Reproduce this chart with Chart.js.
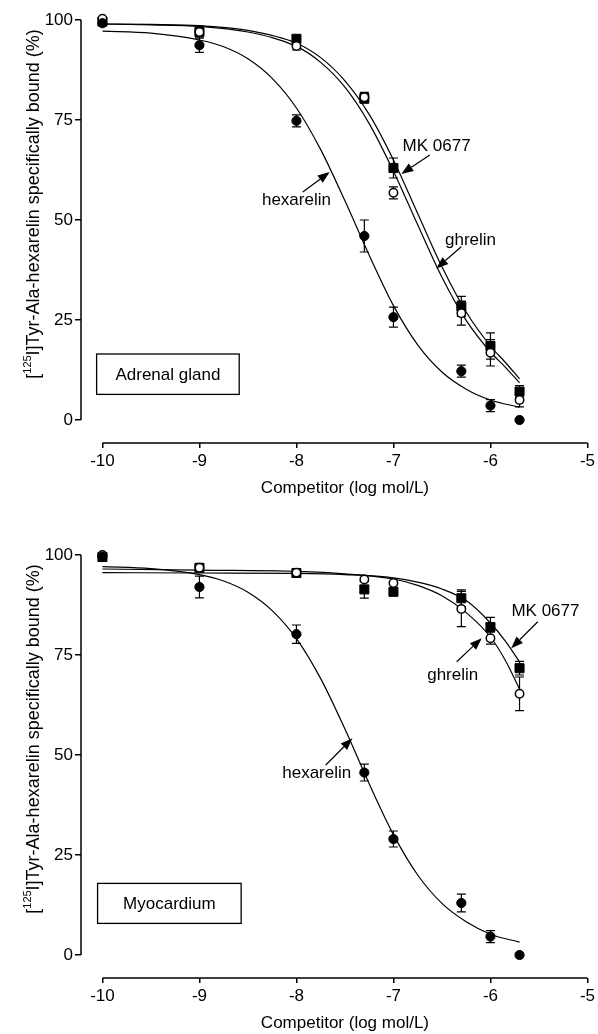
<!DOCTYPE html>
<html>
<head>
<meta charset="utf-8">
<script src="https://cdn.jsdelivr.net/npm/chart.js@4.4.1/dist/chart.umd.min.js"></script>
<style>
html,body{margin:0;padding:0;background:#fff;width:598px;height:1034px;overflow:hidden;position:relative}
canvas{position:absolute;left:0}
</style>
</head>
<body>
<canvas id="c1" width="598" height="499" style="top:0px"></canvas>
<canvas id="c2" width="598" height="499" style="top:535px"></canvas>
<script>
// ---------- data ----------
const logConc = [-10, -9, -8, -7.3, -7, -6.3, -6, -5.7];
const xTicks = [-10, -9, -8, -7, -6, -5];
const yTicks = [0, 25, 50, 75, 100];
const xTitle = 'Competitor (log mol/L)';
const yTitleParts = ['[', '125', 'I]Tyr-Ala-hexarelin specifically bound (%)'];

// Adrenal gland
const adrenalHexarelin    = [99.2, 93.7, 74.8, 46.0, 25.7, 12.2, 3.6, 0];
const adrenalHexarelinSem = [0, 1.8, 1.5, 4.0, 2.5, 1.5, 1.5, 0];
const adrenalGhrelin      = [100.3, 97.0, 93.5, 80.7, 56.8, 26.7, 16.8, 5.0];
const adrenalGhrelinSem   = [0, 1.5, 1.0, 1.2, 1.5, 3.0, 3.3, 1.7];
const adrenalMK0677       = [99.6, 97.0, 95.3, 80.4, 63.0, 28.4, 18.5, 7.1];
const adrenalMK0677Sem    = [0, 0, 0.8, 1.2, 2.5, 2.5, 3.3, 1.5];

// Myocardium
const myoHexarelin    = [99.6, 92.0, 80.2, 45.6, 29.0, 13.0, 4.6, 0];
const myoHexarelinSem = [0, 2.7, 2.3, 2.1, 2.0, 2.2, 1.5, 0];
const myoGhrelin      = [100.0, 96.8, 95.6, 93.9, 93.0, 86.5, 79.2, 65.3];
const myoGhrelinSem   = [0, 0, 0, 0.5, 0, 4.4, 1.5, 4.2];
const myoMK0677       = [99.5, 96.8, 95.5, 91.4, 90.8, 89.2, 82.0, 71.7];
const myoMK0677Sem    = [0, 0.5, 0, 2.2, 0, 2.1, 2.4, 1.7];

// fitted curves
const fitLogHex = [-10, -9.5, -9, -8.75, -8.5, -8.25, -8, -7.75, -7.5, -7.25, -7, -6.75, -6.5, -6.25, -6, -5.7];
const adrenalFitHexarelin = [97.2, 96.7, 95.0, 93.3, 90.3, 85.4, 78.0, 67.6, 54.8, 41.2, 28.6, 18.8, 12.0, 7.7, 5.0, 3.2];
const myoFitHexarelin     = [97.1, 96.6, 95.1, 93.5, 90.7, 86.1, 79.1, 69.1, 56.5, 42.8, 30.1, 20.0, 12.9, 8.3, 5.2, 3.2];
const fitLogTop = [-10, -9.5, -9, -8.5, -8, -7.75, -7.5, -7.25, -7, -6.75, -6.5, -6.25, -6, -5.85, -5.7];
const adrenalFitGhrelin = [99.0, 98.8, 98.4, 97.0, 93.4, 89.4, 83.2, 74.1, 62.2, 48.8, 35.7, 24.9, 17.0, 13.3, 9.3];
const adrenalFitMK0677  = [99.0, 98.9, 98.6, 97.4, 94.2, 90.6, 84.8, 76.4, 65.0, 51.6, 38.3, 27.0, 18.5, 14.5, 10.3];
const fitLogFlat = [-10, -9, -8, -7.5, -7, -6.75, -6.5, -6.25, -6, -5.85, -5.7];
const myoFitGhrelin = [96.5, 96.2, 95.9, 95.3, 94.0, 92.4, 89.8, 85.6, 79.5, 73.8, 66.5];
const myoFitMK0677  = [95.6, 95.5, 95.4, 95.1, 94.3, 93.2, 91.5, 88.6, 83.0, 78.6, 73.3];

// ---------- rendering ----------
const FONT = '"Liberation Sans", Arial, Helvetica, sans-serif';
const pts = (xs, ys) => xs.map((x, i) => ({x: x, y: ys[i]}));

const panels = [
  {
    id: 'c1', label: 'Adrenal gland',
    hex: adrenalHexarelin, hexSem: adrenalHexarelinSem,
    ghr: adrenalGhrelin, ghrSem: adrenalGhrelinSem,
    mk: adrenalMK0677, mkSem: adrenalMK0677Sem,
    fits: [[fitLogHex, adrenalFitHexarelin], [fitLogTop, adrenalFitGhrelin], [fitLogTop, adrenalFitMK0677]],
    notes: {
      texts: [['hexarelin', -8.0, 55], ['MK 0677', -6.555, 68.3], ['ghrelin', -6.205, 45]],
      arrows: [[-7.935, 57, -7.657, 62], [-6.625, 66.25, -6.919, 61.5], [-6.301, 43.3, -6.558, 37.9]],
      box: [-10.06, 16.5, -8.59, 6.4]
    }
  },
  {
    id: 'c2', label: 'Myocardium',
    hex: myoHexarelin, hexSem: myoHexarelinSem,
    ghr: myoGhrelin, ghrSem: myoGhrelinSem,
    mk: myoMK0677, mkSem: myoMK0677Sem,
    fits: [[fitLogHex, myoFitHexarelin], [fitLogFlat, myoFitGhrelin], [fitLogFlat, myoFitMK0677]],
    notes: {
      texts: [['hexarelin', -7.791, 45.5], ['ghrelin', -6.389, 70], ['MK 0677', -5.433, 85.8]],
      arrows: [[-7.698, 47.5, -7.423, 54.2], [-6.348, 73.3, -6.09, 79.2], [-5.512, 83.3, -5.786, 76.7]],
      box: [-10.05, 17.9, -8.57, 7.9]
    }
  }
];

function makeDecor(p) {
  return {
    id: 'decor',
    beforeDatasetsDraw(chart) {
      const {ctx, scales: {x, y}} = chart;
      ctx.save();
      ctx.strokeStyle = '#000';
      ctx.lineWidth = 1.2;
      [[p.mk, p.mkSem], [p.ghr, p.ghrSem], [p.hex, p.hexSem]].forEach(([vals, sem]) => {
        vals.forEach((v, i) => {
          const e = sem[i];
          if (!e) return;
          const px = x.getPixelForValue(logConc[i]);
          const yt = y.getPixelForValue(v + e), yb = y.getPixelForValue(v - e);
          ctx.beginPath();
          ctx.moveTo(px, yt); ctx.lineTo(px, yb);
          ctx.moveTo(px - 4.5, yt); ctx.lineTo(px + 4.5, yt);
          ctx.moveTo(px - 4.5, yb); ctx.lineTo(px + 4.5, yb);
          ctx.stroke();
        });
      });
      ctx.restore();
    },
    afterDraw(chart) {
      const {ctx, chartArea, scales: {x, y}} = chart;
      ctx.save();
      ctx.strokeStyle = '#000';
      ctx.fillStyle = '#000';
      // axis lines
      ctx.lineWidth = 1.5;
      ctx.beginPath();
      ctx.moveTo(chartArea.left, y.getPixelForValue(yTicks[0]));
      ctx.lineTo(chartArea.left, y.getPixelForValue(yTicks[yTicks.length - 1]));
      ctx.moveTo(x.getPixelForValue(xTicks[0]), chartArea.bottom);
      ctx.lineTo(x.getPixelForValue(xTicks[xTicks.length - 1]), chartArea.bottom);
      ctx.stroke();
      // x title
      ctx.font = '17px ' + FONT;
      ctx.textAlign = 'center';
      ctx.textBaseline = 'middle';
      const xMid = (x.getPixelForValue(xTicks[0]) + x.getPixelForValue(xTicks[xTicks.length - 1])) / 2;
      ctx.fillText(xTitle, xMid, chartArea.bottom + 45);
      // y title (rotated, with superscript)
      ctx.save();
      ctx.translate(chartArea.left - 42, y.getPixelForValue(54));
      ctx.rotate(-Math.PI / 2);
      ctx.textAlign = 'left';
      ctx.textBaseline = 'alphabetic';
      const fBig = '18px ' + FONT, fSmall = '11px ' + FONT;
      const segs = [[yTitleParts[0], fBig, 0], [yTitleParts[1], fSmall, -8], [yTitleParts[2], fBig, 0]];
      let total = 0;
      segs.forEach(s => { ctx.font = s[1]; s.push(ctx.measureText(s[0]).width); total += s[3]; });
      let cx = -total / 2;
      segs.forEach(s => { ctx.font = s[1]; ctx.fillText(s[0], cx, s[2]); cx += s[3]; });
      ctx.restore();
      // annotation labels
      ctx.font = '17px ' + FONT;
      ctx.textAlign = 'center';
      ctx.textBaseline = 'middle';
      p.notes.texts.forEach(t => ctx.fillText(t[0], x.getPixelForValue(t[1]), y.getPixelForValue(t[2])));
      // arrows
      ctx.lineWidth = 1.2;
      p.notes.arrows.forEach(a => {
        const x0 = x.getPixelForValue(a[0]), y0 = y.getPixelForValue(a[1]);
        const x1 = x.getPixelForValue(a[2]), y1 = y.getPixelForValue(a[3]);
        const ang = Math.atan2(y1 - y0, x1 - x0);
        const hl = 12, hw = 4.5;
        const bx = x1 - hl * Math.cos(ang), by = y1 - hl * Math.sin(ang);
        ctx.beginPath(); ctx.moveTo(x0, y0); ctx.lineTo(bx, by); ctx.stroke();
        ctx.beginPath();
        ctx.moveTo(x1, y1);
        ctx.lineTo(bx + hw * Math.sin(ang), by - hw * Math.cos(ang));
        ctx.lineTo(bx - hw * Math.sin(ang), by + hw * Math.cos(ang));
        ctx.closePath(); ctx.fill();
      });
      // panel label box
      const b = p.notes.box;
      const bx0 = x.getPixelForValue(b[0]), by0 = y.getPixelForValue(b[1]);
      const bx1 = x.getPixelForValue(b[2]), by1 = y.getPixelForValue(b[3]);
      ctx.lineWidth = 1.3;
      ctx.strokeRect(bx0, by0, bx1 - bx0, by1 - by0);
      ctx.fillText(p.label, (bx0 + bx1) / 2, (by0 + by1) / 2 + 1);
      ctx.restore();
    }
  };
}

panels.forEach(p => {
  const curveDs = p.fits.map(f => ({
    type: 'line', data: pts(f[0], f[1]), borderColor: '#000', borderWidth: 1.2,
    pointRadius: 0, fill: false, cubicInterpolationMode: 'monotone', order: 10, clip: false
  }));
  const datasets = [
    {type: 'scatter', data: pts(logConc, p.hex), pointStyle: 'circle', pointRadius: 4.6,
     backgroundColor: '#000', borderColor: '#000', borderWidth: 1, order: 1, clip: false},
    {type: 'scatter', data: pts(logConc, p.ghr), pointStyle: 'circle', pointRadius: 4.2,
     backgroundColor: '#fff', borderColor: '#000', borderWidth: 1.5, order: 2, clip: false},
    {type: 'scatter', data: pts(logConc, p.mk), pointStyle: 'rect', pointRadius: 6.4,
     backgroundColor: '#000', borderColor: '#000', borderWidth: 1, order: 3, clip: false}
  ].concat(curveDs);

  new Chart(document.getElementById(p.id), {
    type: 'scatter',
    data: {datasets: datasets},
    options: {
      responsive: false, animation: false, devicePixelRatio: 1,
      layout: {padding: {left: 0, right: 10, top: 20, bottom: 16}},
      plugins: {legend: {display: false}, tooltip: {enabled: false}},
      scales: {
        x: {
          type: 'linear', min: -10.221, max: -5,
          afterBuildTicks: s => { s.ticks = xTicks.map(v => ({value: v})); },
          afterFit: s => { s.height = 40; },
          ticks: {color: '#000', font: {family: FONT, size: 17}, padding: 3, maxRotation: 0},
          grid: {display: true, drawOnChartArea: false, drawTicks: true, tickLength: 5, color: '#000', lineWidth: 1.5},
          border: {display: false},
          title: {display: false}
        },
        y: {
          type: 'linear', min: -5.75, max: 100,
          afterBuildTicks: s => { s.ticks = yTicks.map(v => ({value: v})); },
          afterFit: s => { s.width = 81; },
          ticks: {color: '#000', font: {family: FONT, size: 17}, padding: 2},
          grid: {display: true, drawOnChartArea: false, drawTicks: true, tickLength: 6, color: '#000', lineWidth: 1.5},
          border: {display: false},
          title: {display: false}
        }
      }
    },
    plugins: [makeDecor(p)]
  });
});
</script>
</body>
</html>
